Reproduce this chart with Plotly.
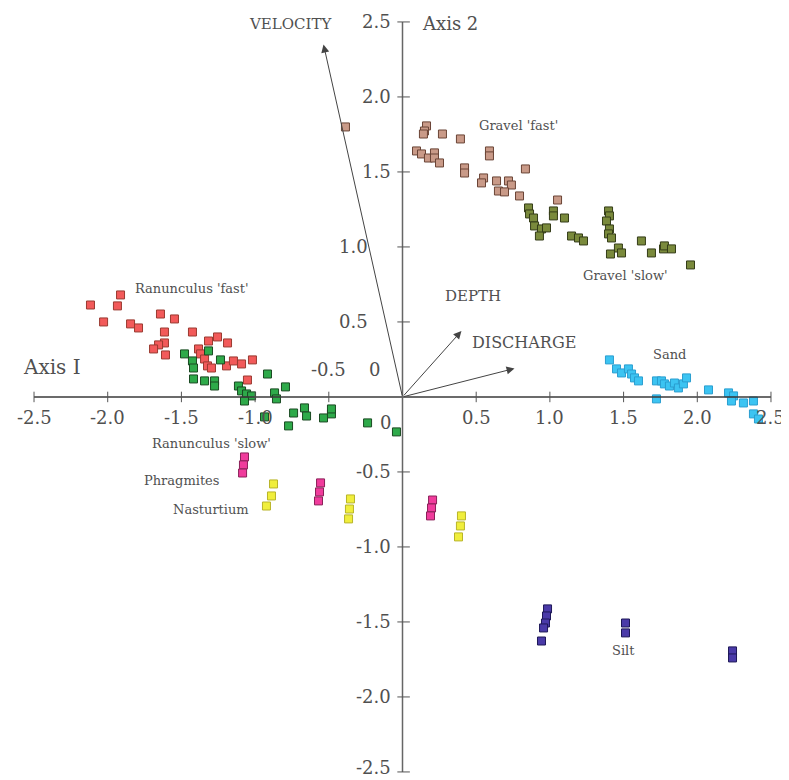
import plotly.graph_objects as go

# ---------------- data ----------------
ran_fast_x = [-1.913, -2.117, -1.934, -2.028, -1.642, -1.547, -1.845, -1.791, -1.615, -1.425,
              -1.316, -1.255, -1.187, -1.615, -1.655, -1.689, -1.608, -1.384, -1.370, -1.343,
              -1.323, -1.296, -1.194, -1.147, -1.092, -1.018, -1.052]
ran_fast_y = [0.680, 0.613, 0.607, 0.500, 0.553, 0.520, 0.487, 0.460, 0.433, 0.433,
              0.373, 0.400, 0.360, 0.360, 0.347, 0.320, 0.280, 0.320, 0.287, 0.253,
              0.207, 0.193, 0.207, 0.240, 0.220, 0.247, 0.113]

ran_slow_x = [-1.479, -1.425, -1.418, -1.316, -1.235, -1.418, -1.343, -1.275, -1.275, -0.916,
              -0.794, -1.113, -1.092, -1.058, -1.024, -1.072, -0.868, -0.855, -0.936, -0.739,
              -0.665, -0.651, -0.773, -0.536, -0.482, -0.482, -0.237, -0.041]
ran_slow_y = [0.287, 0.240, 0.193, 0.307, 0.247, 0.120, 0.107, 0.107, 0.073, 0.153,
              0.067, 0.073, 0.040, 0.020, 0.007, -0.027, 0.027, -0.013, -0.133, -0.107,
              -0.073, -0.127, -0.193, -0.140, -0.113, -0.080, -0.173, -0.233]

gravel_fast_x = [-0.387, 0.163, 0.149, 0.142, 0.271, 0.393, 0.095, 0.129, 0.176, 0.217,
                 0.217, 0.251, 0.421, 0.421, 0.590, 0.590, 0.834, 0.550, 0.536, 0.638,
                 0.719, 0.739, 0.651, 0.692, 0.794, 1.052]
gravel_fast_y = [1.800, 1.807, 1.773, 1.753, 1.753, 1.720, 1.640, 1.620, 1.593, 1.627,
                 1.593, 1.560, 1.527, 1.493, 1.640, 1.607, 1.520, 1.460, 1.427, 1.440,
                 1.440, 1.413, 1.373, 1.367, 1.340, 1.313]

gravel_slow_x = [0.855, 0.862, 0.889, 1.024, 1.024, 1.099, 0.896, 0.943, 0.929, 0.977,
                 1.147, 1.194, 1.228, 1.398, 1.404, 1.384, 1.404, 1.398, 1.418, 1.465,
                 1.411, 1.486, 1.621, 1.689, 1.771, 1.777, 1.825, 1.954]
gravel_slow_y = [1.260, 1.220, 1.193, 1.240, 1.207, 1.193, 1.140, 1.120, 1.073, 1.127,
                 1.073, 1.060, 1.040, 1.240, 1.207, 1.173, 1.120, 1.087, 1.060, 0.993,
                 0.953, 0.960, 1.040, 0.960, 0.987, 1.007, 0.987, 0.880]

sand_x = [1.404, 1.452, 1.486, 1.533, 1.554, 1.574, 1.601, 1.723, 1.757, 1.777,
          1.811, 1.845, 1.872, 1.906, 1.927, 1.723, 2.076, 2.212, 2.246, 2.232,
          2.313, 2.381, 2.381, 2.415]
sand_y = [0.247, 0.187, 0.160, 0.187, 0.153, 0.127, 0.107, 0.107, 0.107, 0.087,
          0.073, 0.093, 0.060, 0.087, 0.127, -0.013, 0.047, 0.027, 0.007, -0.027,
          -0.040, -0.027, -0.113, -0.147]

phrag_x = [-1.072, -1.079, -1.085, -0.556, -0.563, -0.570, 0.204, 0.197, 0.190]
phrag_y = [-0.400, -0.453, -0.507, -0.573, -0.633, -0.693, -0.687, -0.740, -0.793]

nast_x = [-0.875, -0.889, -0.923, -0.353, -0.360, -0.366, 0.400, 0.393, 0.380]
nast_y = [-0.580, -0.660, -0.727, -0.680, -0.747, -0.813, -0.793, -0.860, -0.933]

silt_x = [0.984, 0.977, 0.970, 0.957, 0.943, 1.513, 1.513, 2.239, 2.239]
silt_y = [-1.413, -1.460, -1.507, -1.540, -1.627, -1.507, -1.573, -1.693, -1.740]

vectors = ["VELOCITY", "DEPTH", "DISCHARGE"]
vec_x = [-0.536, 0.400, 0.760]
vec_y = [2.350, 0.440, 0.190]

tick_vals = [-2.5, -2.0, -1.5, -1.0, -0.5, 0.5, 1.0, 1.5, 2.0, 2.5]
tick_text = ["-2.5", "-2.0", "-1.5", "-1.0", "-0.5", "0.5", "1.0", "1.5", "2.0", "2.5"]

# ---------------- figure ----------------
FONT = "DejaVu Serif"
TXT = "#505050"
AX = "#555555"
TS = 18

fig = go.Figure()

groups = [
    (ran_fast_x, ran_fast_y, "#f25a5a", "#9a3a30"),
    (ran_slow_x, ran_slow_y, "#2eaa4a", "#1a4a22"),
    (gravel_fast_x, gravel_fast_y, "#c99a88", "#6a4436"),
    (gravel_slow_x, gravel_slow_y, "#7a8a3c", "#343c18"),
    (sand_x, sand_y, "#3cc4f2", "#2a9ed0"),
    (phrag_x, phrag_y, "#f03c9c", "#8a2058"),
    (nast_x, nast_y, "#f0ee3c", "#b8b428"),
    (silt_x, silt_y, "#4a3aa8", "#1e1858"),
]
for gx, gy, fc, lc in groups:
    fig.add_trace(go.Scatter(
        x=gx, y=gy, mode="markers",
        marker=dict(symbol="square", size=8, color=fc, line=dict(color=lc, width=1)),
        showlegend=False, hoverinfo="skip"))

shapes = []
# axis lines
shapes.append(dict(type="line", xref="x", yref="y", x0=tick_vals[0], x1=tick_vals[-1], y0=0, y1=0,
                   line=dict(color="#3a3a3a", width=1.5)))
shapes.append(dict(type="line", xref="x", yref="y", x0=0, x1=0, y0=tick_vals[0], y1=tick_vals[-1],
                   line=dict(color="#666666", width=1.5)))
annotations = []
for v, t in zip(tick_vals, tick_text):
    shapes.append(dict(type="line", xref="x", yref="y", x0=v, x1=v, y0=-0.035, y1=0.035,
                       line=dict(color=AX, width=1)))
    shapes.append(dict(type="line", xref="x", yref="y", x0=-0.035, x1=0.05, y0=v, y1=v,
                       line=dict(color=AX, width=1)))
    # x tick labels (the -0.5 label sits above the axis in the original)
    if v == -0.5:
        annotations.append(dict(x=v, y=0.18, text=t, showarrow=False, xanchor="center",
                                font=dict(family=FONT, size=TS, color=TXT)))
    else:
        annotations.append(dict(x=v, y=-0.14, text=t, showarrow=False, xanchor="center",
                                font=dict(family=FONT, size=TS, color=TXT)))
    # y tick labels (0.5 and 1.0 pushed left of the VELOCITY vector)
    lx = -0.22 if v in (0.5, 1.0) else -0.065
    annotations.append(dict(x=lx, y=v, text=t, showarrow=False, xanchor="right",
                            yshift=4 if v == tick_vals[0] else 0,
                            font=dict(family=FONT, size=TS, color=TXT)))
annotations.append(dict(x=-0.115, y=-0.17, text="0", showarrow=False,
                        font=dict(family=FONT, size=TS, color=TXT)))
annotations.append(dict(x=-0.19, y=0.18, text="0", showarrow=False,
                        font=dict(family=FONT, size=TS, color=TXT)))

# vectors
for name, vx, vy in zip(vectors, vec_x, vec_y):
    annotations.append(dict(x=vx, y=vy, ax=0, ay=0, xref="x", yref="y", axref="x", ayref="y",
                            text="", showarrow=True, arrowhead=2, arrowsize=1.6, arrowwidth=1,
                            arrowcolor="#444444"))

labels = [
    ("VELOCITY", -0.76, 2.487, 15),
    ("Axis 2", 0.32, 2.493, 18),
    ("Gravel 'fast'", 0.79, 1.807, 13),
    ("Gravel 'slow'", 1.51, 0.807, 13),
    ("Ranunculus 'fast'", -1.425, 0.72, 13),
    ("DEPTH", 0.48, 0.673, 15),
    ("DISCHARGE", 0.822, 0.36, 16),
    ("Sand", 1.811, 0.28, 13),
    ("Axis I", -2.375, 0.20, 20),
    ("Ranunculus 'slow'", -1.296, -0.313, 13),
    ("Phragmites", -1.499, -0.56, 13),
    ("Nasturtium", -1.296, -0.747, 13),
    ("Silt", 1.499, -1.693, 13),
]
for t, lx, ly, fs in labels:
    annotations.append(dict(x=lx, y=ly, text=t, showarrow=False,
                            font=dict(family=FONT, size=fs, color=TXT)))

fig.update_layout(
    width=789, height=780,
    margin=dict(l=0, r=0, t=0, b=0),
    paper_bgcolor="white", plot_bgcolor="white",
    xaxis=dict(range=[-2.6765, 2.6765], visible=False, fixedrange=True),
    yaxis=dict(range=[-2.607, 2.593], visible=False, fixedrange=True),
    shapes=shapes, annotations=annotations,
)

fig.write_html("out.html")
